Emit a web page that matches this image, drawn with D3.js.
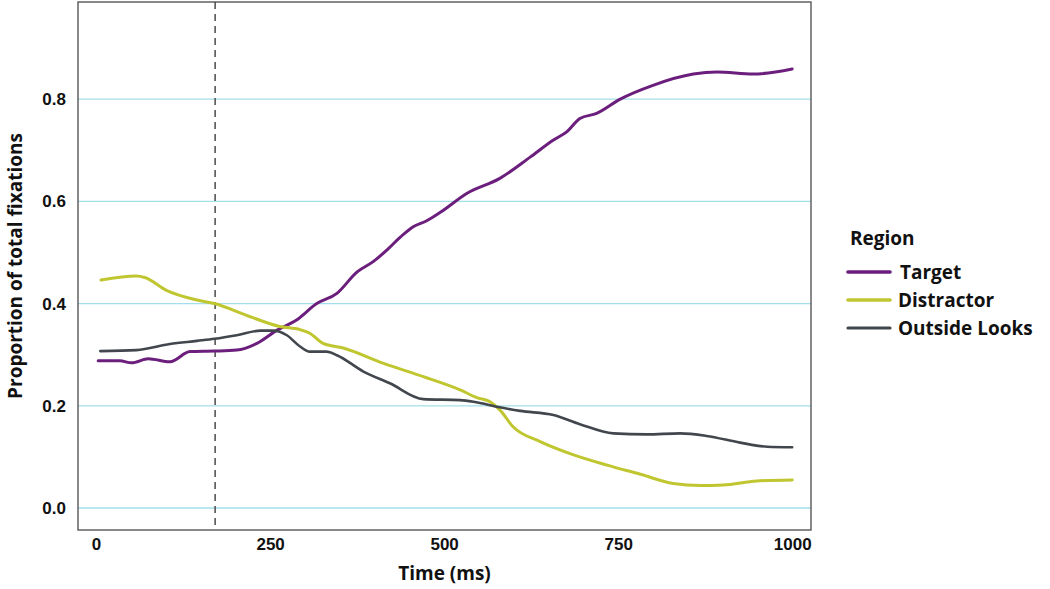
<!DOCTYPE html>
<html lang="en">
<head>
    <meta charset="UTF-8">
    <title>Proportion of total fixations</title>
    <script src="https://d3js.org/d3.v7.min.js"></script>
    <style>
        body { margin: 0; background: #fff; }
        svg { font-family: "Open Sans", Lato, sans-serif; }
        .tick text { font-size: 17px; font-weight: 600; fill: #111; font-variant-numeric: oldstyle-nums; }
        .axis-title { font-size: 19px; font-weight: 700; fill: #111; }
        .legend text { font-size: 19px; font-weight: 700; fill: #111; }
    </style>
</head>
<body>
    <svg width="1050" height="589"></svg>
    <script>
        // time (ms) / proportion
        const targetTime = [3, 34, 51, 75, 106, 135, 170, 202, 231, 260, 288, 317, 346, 375, 398, 418, 437, 455, 475, 494, 533, 580, 624, 657, 676, 695, 719, 753, 800, 858, 892, 944, 1000];
        const targetVals = [0.288, 0.288, 0.284, 0.292, 0.286, 0.306, 0.307, 0.309, 0.322, 0.348, 0.368, 0.400, 0.420, 0.462, 0.482, 0.505, 0.530, 0.550, 0.562, 0.578, 0.616, 0.645, 0.687, 0.720, 0.736, 0.762, 0.772, 0.800, 0.827, 0.849, 0.853, 0.849, 0.859];

        const distractorTime = [7, 58, 70, 101, 145, 170, 216, 264, 293, 307, 326, 355, 413, 470, 523, 547, 566, 580, 599, 638, 686, 734, 782, 829, 868, 901, 949, 1000];
        const distractorVals = [0.446, 0.454, 0.451, 0.426, 0.407, 0.400, 0.377, 0.355, 0.349, 0.342, 0.322, 0.313, 0.283, 0.257, 0.231, 0.216, 0.208, 0.192, 0.159, 0.130, 0.104, 0.084, 0.066, 0.048, 0.044, 0.045, 0.053, 0.055];

        const outsideTime = [6, 58, 106, 145, 170, 202, 236, 255, 274, 293, 307, 331, 346, 384, 422, 470, 523, 542, 580, 609, 657, 695, 743, 791, 839, 877, 925, 964, 1000];
        const outsideVals = [0.307, 0.309, 0.321, 0.327, 0.331, 0.338, 0.347, 0.347, 0.338, 0.316, 0.306, 0.306, 0.299, 0.267, 0.244, 0.213, 0.211, 0.208, 0.197, 0.190, 0.182, 0.164, 0.146, 0.144, 0.146, 0.141, 0.128, 0.120, 0.119];

        const regions = ["Target", "Distractor", "Outside Looks"];
        const colors = ["#6b1e7c", "#c0c62f", "#41474d"];
        const xTicks = [0, 250, 500, 750, 1000];
        const yTicks = [0.0, 0.2, 0.4, 0.6, 0.8];
        const onsetMs = 171;

        const series = [
            { name: regions[0], t: targetTime, v: targetVals, color: colors[0], w: 3 },
            { name: regions[1], t: distractorTime, v: distractorVals, color: colors[1], w: 3 },
            { name: regions[2], t: outsideTime, v: outsideVals, color: colors[2], w: 2.6 }
        ];

        const margin = { top: 2, right: 239, bottom: 59, left: 78 };
        const width = 1050 - margin.left - margin.right;
        const height = 589 - margin.top - margin.bottom;

        const svg = d3.select("svg")
            .append("g")
            .attr("transform", `translate(${margin.left}, ${margin.top})`);

        const x = d3.scaleLinear().domain([-26, 1027]).range([0, width]);
        const y = d3.scaleLinear().domain([-0.043, 0.99]).range([height, 0]);

        // grid
        svg.selectAll(".grid")
            .data(yTicks)
            .enter().append("line")
            .attr("x1", 0).attr("x2", width)
            .attr("y1", d => y(d)).attr("y2", d => y(d))
            .attr("stroke", "#a3dfea")
            .attr("stroke-width", 1.3);

        // axes
        const yAxis = svg.append("g")
            .call(d3.axisLeft(y).tickValues(yTicks).tickFormat(d3.format(".1f")).tickSize(0).tickPadding(12));
        yAxis.select(".domain").remove();

        const xAxis = svg.append("g")
            .attr("transform", `translate(0, ${height})`)
            .call(d3.axisBottom(x).tickValues(xTicks).tickFormat(d3.format("d")).tickSize(0).tickPadding(8));
        xAxis.select(".domain").remove();

        // onset marker
        svg.append("line")
            .attr("x1", x(onsetMs)).attr("x2", x(onsetMs))
            .attr("y1", 0).attr("y2", height)
            .attr("stroke", "#555")
            .attr("stroke-width", 1.6)
            .attr("stroke-dasharray", "7,5");

        const line = d3.line()
            .x(d => x(d[0]))
            .y(d => y(d[1]))
            .curve(d3.curveMonotoneX);

        svg.selectAll(".series")
            .data(series)
            .enter().append("path")
            .attr("fill", "none")
            .attr("stroke", d => d.color)
            .attr("stroke-width", d => d.w)
            .attr("stroke-linecap", "round")
            .attr("d", d => line(d.t.map((t, i) => [t, d.v[i]])));

        // frame
        svg.append("rect")
            .attr("width", width).attr("height", height)
            .attr("fill", "none")
            .attr("stroke", "#4a4a4a")
            .attr("stroke-width", 1.3);

        svg.append("text")
            .attr("class", "axis-title")
            .attr("x", width / 2)
            .attr("y", height + 50)
            .attr("text-anchor", "middle")
            .text("Time (ms)");

        svg.append("text")
            .attr("class", "axis-title")
            .attr("transform", `translate(${-56}, ${height / 2}) rotate(-90)`)
            .attr("text-anchor", "middle")
            .text("Proportion of total fixations");

        // legend
        const legend = d3.select("svg").append("g")
            .attr("class", "legend")
            .attr("transform", "translate(848, 238)");

        legend.append("text")
            .attr("x", 2).attr("y", 0).attr("dy", "0.35em")
            .text("Region");

        const item = legend.selectAll(".item")
            .data(series)
            .enter().append("g")
            .attr("transform", (d, i) => `translate(0, ${34 + i * 28})`);

        item.append("line")
            .attr("x1", 0).attr("x2", 42)
            .attr("stroke", d => d.color)
            .attr("stroke-width", d => d.w + 0.6)
            .attr("stroke-linecap", "round");

        item.append("text")
            .attr("x", (d, i) => i === 0 ? 52 : 50)
            .attr("dy", "0.35em")
            .text(d => d.name);
    </script>
</body>
</html>
